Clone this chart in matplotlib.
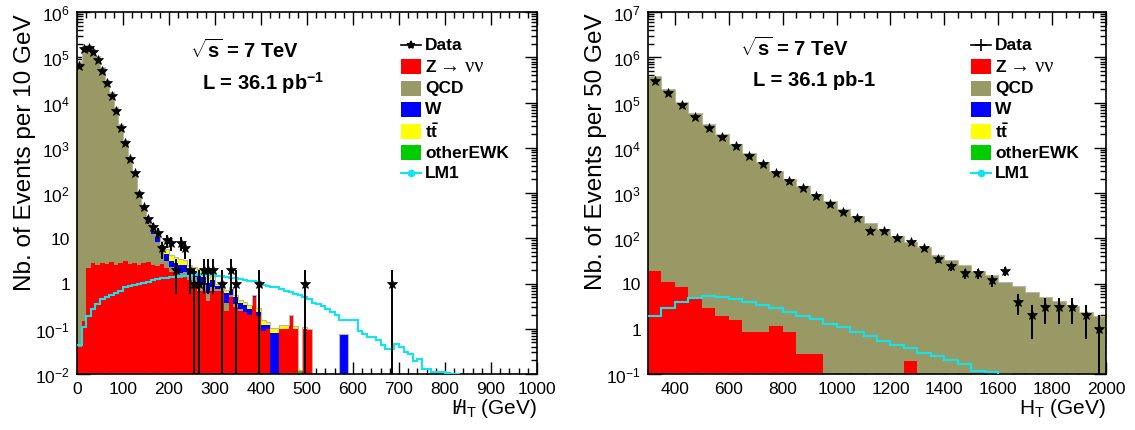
import numpy as np
import matplotlib
matplotlib.use("Agg")
import matplotlib.pyplot as plt
from matplotlib.patches import Rectangle
from matplotlib.lines import Line2D
from matplotlib.ticker import (FixedLocator, FixedFormatter, MultipleLocator,
                               LogLocator, NullFormatter)

plt.rcParams["font.family"] = ["Liberation Sans", "DejaVu Sans"]
plt.rcParams["mathtext.fontset"] = "custom"
plt.rcParams["mathtext.rm"] = "Liberation Sans"
plt.rcParams["mathtext.it"] = "Liberation Sans:italic"
plt.rcParams["mathtext.bf"] = "Liberation Sans:bold"
plt.rcParams["mathtext.sf"] = "Liberation Sans"

# ---------------- missing H_T : 10 GeV bins, 0 - 1000 GeV ----------------
mht_edges = np.arange(0, 1001, 10)

mht_data = [65000, 150000, 160000, 130000, 87000, 50000, 27000, 14000, 6400, 2700,
            1260, 550, 277, 96, 48, 26, 18, 13, 6, 9,
            8, 2, 8, 6, 2, 1, 1, 2, 2, 2,
            0, 1, 0, 2, 1, 0, 0, 0, 0, 1,
            0, 0, 0, 0, 0, 0, 0, 0, 0, 1] + [0] * 18 + [1] + [0] * 31

mht_z = [0.04, 0.15, 2.2, 2.8, 2.6, 2.9, 2.7, 3.0, 2.6, 2.8,
         3.1, 2.7, 2.9, 2.5, 2.8, 3.0, 2.6, 2.4, 2.7, 2.2,
         1.8, 1.6, 1.3, 1.5, 1.2, 1.1, 0.7, 0.7, 0.42, 0.7,
         0.7, 0.7, 0.25, 0.5, 0.3, 0.25, 0.23, 0.2, 0.5, 0.19,
         0.09, 0.1, 0, 0, 0.1, 0.1, 0.19, 0.1, 0, 0.1,
         0.1] + [0] * 49

mht_qcd = [8.0e4, 1.9e5, 1.9e5, 1.55e5, 1.05e5, 6.0e4, 3.2e4, 1.7e4, 8.0e3, 3.4e3,
           1.45e3, 620, 280, 105, 42, 20, 10, 6, 3.0, 1.0,
           0.5, 0.5, 0.4, 0.3, 0.3, 0.3, 0.4, 0.25, 0.2, 0.15,
           0.05, 0.1, 0.12, 0.05, 0.05, 0.03] + [0] * 64

mht_w = [0.5, 1, 2, 3, 3.5, 4, 4.5, 5, 5, 5,
         5, 4, 3.2, 2.6, 2.2, 2.0, 1.8, 2.0, 1.5, 1.2,
         0.9, 0.8, 0.9, 0.8, 0.5, 0.5, 0.5, 0.45, 0.4, 0.35,
         0.12, 0.2, 0.25, 0.2, 0.15, 0.1, 0.1, 0.08, 0.02, 0.05,
         0.03, 0.02, 0.08, 0.08, 0, 0, 0, 0, 0, 0,
         0, 0, 0, 0, 0, 0, 0, 0.075, 0.075] + [0] * 41

mht_tt = [0.05, 0.1, 0.2, 0.4, 0.6, 0.9, 1.2, 1.6, 2.0, 2.4,
          2.8, 3.0, 2.6, 2.2, 2.0, 2.0, 2.0, 2.0, 1.6, 1.3,
          1.0, 0.8, 0.8, 0.7, 0.5, 0.4, 0.4, 0.3, 0.3, 0.25,
          0.1, 0.1, 0.08, 0.07, 0.06, 0.05, 0.05, 0.04, 0.03, 0.04,
          0.03, 0.02, 0.02, 0.02, 0.015, 0.015, 0.01, 0.01, 0, 0.005] + [0] * 50

mht_ewk = [0.01, 0.02, 0.05, 0.08, 0.1, 0.12, 0.15, 0.2, 0.2, 0.2,
           0.2, 0.2, 0.2, 0.2, 0.18, 0.15, 0.15, 0.12, 0.1, 0.1,
           0.08, 0.07, 0.06, 0.05, 0.05, 0.04, 0.04, 0.03, 0.03, 0.02,
           0.02, 0.015, 0.015, 0.01, 0.01, 0.01, 0.008, 0.008, 0.005, 0.005,
           0.005, 0.004, 0.005, 0.005, 0.003, 0.003, 0.006, 0.003, 0.012, 0.002] + [0] * 50

mht_lm1 = [0.043, 0.11, 0.19, 0.27, 0.36, 0.45, 0.5, 0.56, 0.62, 0.7,
           0.85, 0.9, 0.95, 1.0, 1.05, 1.1, 1.2, 1.25, 1.3, 1.35,
           1.4, 1.42, 1.45, 1.48, 1.5, 1.55, 1.6, 1.55, 1.6, 1.55,
           1.5, 1.45, 1.4, 1.35, 1.3, 1.25, 1.2, 1.15, 1.15, 1.1,
           0.95, 0.9, 0.85, 0.83, 0.75, 0.7, 0.65, 0.6, 0.55, 0.5,
           0.45, 0.37, 0.35, 0.32, 0.27, 0.23, 0.2, 0.16, 0.16, 0.16,
           0.16, 0.09, 0.075, 0.065, 0.065, 0.055, 0.043, 0.035, 0.035, 0.046,
           0.04, 0.03, 0.027, 0.019, 0.021, 0.013, 0.013, 0.0112, 0.0112, 0.0108,
           0.0103, 0.0102, 0.0101] + [0.005] * 17

# ---------------- H_T : 50 GeV bins, 300 - 2000 GeV ----------------
ht_edges = np.arange(300, 2001, 50)

ht_data = [3.0e5, 1.6e5, 8.8e4, 4.9e4, 2.8e4, 1.75e4, 1.07e4, 6600, 4400, 2800,
           1800, 1260, 870, 571, 374, 275, 147, 147, 101, 81,
           60, 35, 24, 17, 17, 12, 19, 4, 2, 3,
           3, 3, 2, 1]

ht_z = [19, 11, 8.3, 4.7, 2.9, 1.9, 1.6, 0.83, 0.83, 1.13,
        0.83, 0.28, 0.28, 0, 0, 0, 0, 0, 0, 0.19,
        0, 0, 0, 0, 0, 0, 0, 0, 0, 0,
        0, 0, 0, 0]

ht_qcd = [3.9e5, 2.0e5, 1.05e5, 5.8e4, 3.3e4, 2.0e4, 1.2e4, 7600, 4900, 3100,
          2000, 1400, 950, 680, 445, 316, 222, 158, 112, 82,
          63, 43, 33, 26, 19, 15, 11, 8.7, 6.4, 5.0,
          4.0, 3.1, 2.4, 1.95]

ht_w = [25, 15, 9, 6, 4, 2.5, 1.8, 1.2, 0.9, 0.6,
        0.45, 0.35, 0.25, 0.2, 0.15, 0.1, 0.08, 0.06, 0.05, 0.04,
        0.03, 0.02, 0.02, 0.015, 0.01, 0.01, 0.008, 0.006, 0.005, 0.004,
        0.003, 0.002, 0.002, 0.001]

ht_tt = [12, 9, 7, 5, 3.5, 2.5, 1.8, 1.3, 0.9, 0.6,
         0.45, 0.3, 0.22, 0.16, 0.12, 0.09, 0.07, 0.05, 0.04, 0.03,
         0.025, 0.02, 0.015, 0.012, 0.01, 0.015, 0.006, 0.005, 0.004, 0.003,
         0.002, 0.002, 0.001, 0.001]

ht_ewk = [2, 1.5, 1.1, 0.8, 0.6, 0.4, 0.3, 0.2, 0.15, 0.1,
          0.08, 0.06, 0.05, 0.04, 0.03, 0.02, 0.015, 0.012, 0.01, 0.008,
          0.006, 0.005, 0.004, 0.003, 0.002, 0.02, 0.002, 0.001, 0.001, 0.001,
          0.001, 0.001, 0.001, 0.001]

ht_lm1 = [1.9, 2.9, 4.0, 4.7, 5.2, 5.1, 4.6, 4.0, 3.35, 2.9,
          2.3, 1.95, 1.64, 1.27, 1.07, 0.83, 0.68, 0.54, 0.43, 0.37,
          0.29, 0.245, 0.2, 0.17, 0.118, 0.109, 0.095, 0.085, 0.07, 0.06,
          0.05, 0.04, 0.03, 0.025]

COL_Z, COL_QCD, COL_W, COL_TT, COL_EWK = "#ff0000", "#999966", "#0000ff", "#ffff00", "#00cc00"
COL_LM1 = "#10e4ee"

W_PX, H_PX = 1135, 431
fig = plt.figure(figsize=(W_PX / 100, H_PX / 100), dpi=100)


def fx(x):
    return x / W_PX


def fy(y):
    return 1 - y / H_PX


def axes_px(x0, x1, ytop, ybot):
    return fig.add_axes([fx(x0), fy(ybot), (x1 - x0) / W_PX, (ybot - ytop) / H_PX])


def draw_stack(ax, edges, layers, colors, floor):
    cum = np.zeros(len(edges) - 1)
    tops = []
    for vals in layers:
        cum = cum + np.asarray(vals, float)
        tops.append(cum.copy())
    for top, col in reversed(list(zip(tops, colors))):
        ax.stairs(np.where(top > 0, top, floor), edges, baseline=floor,
                  fill=True, color=col, lw=0, zorder=2)
    ax.stairs(np.where(tops[-1] > 0, tops[-1], floor), edges, baseline=None,
              color="#b8b8a8", lw=0.8, zorder=2.1)


def draw_data(ax, edges, counts, floor):
    counts = np.asarray(counts, float)
    centers = 0.5 * (edges[:-1] + edges[1:])
    sel = counts > 0
    c, x = counts[sel], centers[sel]
    err = np.sqrt(c)
    lo = np.minimum(err, c - floor)
    ax.errorbar(x, c, yerr=[lo, err], fmt="*", color="k", ms=7, mew=0.5,
                elinewidth=1.4, capsize=0, zorder=5)


def style_axes(ax, xlim, ylim_exp, xminor, xticks_shown):
    ax.set_yscale("log")
    ax.set_xlim(*xlim)
    ax.set_ylim(10.0 ** ylim_exp[0], 10.0 ** ylim_exp[1])
    ax.xaxis.set_major_locator(FixedLocator(xticks_shown))
    ax.xaxis.set_minor_locator(MultipleLocator(xminor))
    ax.xaxis.set_major_formatter(FixedFormatter([str(t) for t in xticks_shown]))
    exps = list(range(ylim_exp[0], ylim_exp[1] + 1))
    labels = []
    for e in exps:
        if e == 0:
            labels.append("1")
        elif e == 1:
            labels.append("10")
        else:
            labels.append(r"$10^{%d}$" % e)
    ax.yaxis.set_major_locator(FixedLocator([10.0 ** e for e in exps]))
    ax.yaxis.set_major_formatter(FixedFormatter(labels))
    ax.yaxis.set_minor_locator(LogLocator(base=10, subs=np.arange(2, 10), numticks=30))
    ax.yaxis.set_minor_formatter(NullFormatter())
    ax.tick_params(which="both", direction="in", top=True, right=True,
                   labelsize=12.5, width=1.0, color="k")
    ax.tick_params(which="major", length=9, pad=5)
    ax.tick_params(which="minor", length=4.5)
    for sp in ax.spines.values():
        sp.set_linewidth(1.2)


def draw_legend(x_box, x_text, data_marker):
    rows = [46, 67, 89, 110, 132, 153, 174]
    bw, bh = 20, 15
    fs = 12.5
    # Data
    y = rows[0]
    fig.add_artist(Line2D([fx(x_box), fx(x_box + bw)], [fy(y), fy(y)],
                          transform=fig.transFigure, color="k", lw=1.2))
    fig.add_artist(Line2D([fx(x_box + bw / 2)], [fy(y)], transform=fig.transFigure,
                          marker=data_marker, color="k", ms=6 if data_marker == "*" else 8,
                          mew=1.2, lw=0))
    fig.text(fx(x_text), fy(y), "Data", fontsize=fs, fontweight="bold", va="center")
    boxes = [(COL_Z, None), (COL_QCD, "QCD"), (COL_W, "W"),
             (COL_TT, r"$\mathbf{t\bar{t}}$"), (COL_EWK, "otherEWK")]
    for (col, lab), y in zip(boxes, rows[1:6]):
        fig.add_artist(Rectangle((fx(x_box), fy(y + bh / 2)), bw / W_PX, bh / H_PX,
                                 transform=fig.transFigure, facecolor=col, edgecolor="none"))
        if lab is not None:
            fig.text(fx(x_text), fy(y), lab, fontsize=fs, fontweight="bold", va="center")
    y = rows[1]
    fig.text(fx(x_text), fy(y), "Z", fontsize=fs, fontweight="bold", va="center")
    fig.text(fx(x_text + 15), fy(y + 1), "\u2192 \u03bd\u03bd", fontsize=14.5,
             family=["Liberation Serif", "DejaVu Serif"], va="center")
    # LM1
    y = rows[6]
    fig.add_artist(Line2D([fx(x_box), fx(x_box + bw)], [fy(y), fy(y)],
                          transform=fig.transFigure, color=COL_LM1, lw=1.5))
    fig.add_artist(Line2D([fx(x_box + bw / 2)], [fy(y)], transform=fig.transFigure,
                          marker="o", color=COL_LM1, ms=4.5, lw=0))
    fig.text(fx(x_text), fy(y), "LM1", fontsize=fs, fontweight="bold", va="center")


# ---------------- left panel : missing H_T ----------------
axL = axes_px(77, 537, 13, 375)
floorL = 1e-4
draw_stack(axL, mht_edges, [mht_z, mht_qcd, mht_w, mht_tt, mht_ewk],
           [COL_Z, COL_QCD, COL_W, COL_TT, COL_EWK], floorL)
axL.stairs(mht_lm1, mht_edges, baseline=None, color=COL_LM1, lw=1.5, zorder=3)
draw_data(axL, mht_edges, mht_data, floorL)
style_axes(axL, (0, 1000), (-2, 6), 20, list(range(0, 1001, 100)))

# ---------------- right panel : H_T ----------------
axR = axes_px(648, 1106, 13, 375)
floorR = 1e-3
draw_stack(axR, ht_edges, [ht_z, ht_qcd, ht_w, ht_tt, ht_ewk],
           [COL_Z, COL_QCD, COL_W, COL_TT, COL_EWK], floorR)
axR.stairs(ht_lm1, ht_edges, baseline=None, color=COL_LM1, lw=1.5, zorder=3)
draw_data(axR, ht_edges, ht_data, floorR)
style_axes(axR, (300, 2000), (-1, 7), 50, list(range(400, 2001, 200)))

# ---------------- axis titles ----------------
fig.text(fx(25), fy(153), "Nb. of Events per 10 GeV", rotation=90,
         fontsize=17.5, ha="center", va="center")
fig.text(fx(596), fy(152), "Nb. of Events per 50 GeV", rotation=90,
         fontsize=17.5, ha="center", va="center")

# missing H_T: a slash is stepped back over the H with negative spaces
fig.text(fx(537), fy(409),
         r"$\mathregular{H_{T}}\!\!\!\!\!\!\!/\ \;\,$ (GeV)",
         fontsize=15, ha="right", va="center")
fig.text(fx(1106), fy(409), r"$\mathregular{H_{T}}$ (GeV)", fontsize=15,
         ha="right", va="center")

# ---------------- energy / luminosity captions ----------------
fig.text(fx(190), fy(50), r"$\sqrt{\mathbf{s}}$ = 7 TeV", fontsize=14.5,
         fontweight="bold", va="center")
fig.text(fx(202), fy(83), r"L = 36.1 pb$^{\mathbf{-1}}$", fontsize=14.5,
         fontweight="bold", va="center")
fig.text(fx(740), fy(48), r"$\sqrt{\mathbf{s}}$ = 7 TeV", fontsize=14.5,
         fontweight="bold", va="center")
fig.text(fx(753), fy(80), "L = 36.1 pb-1", fontsize=14.5,
         fontweight="bold", va="center")

draw_legend(401, 425, "*")
draw_legend(971, 995, "+")

fig.savefig("out.png", dpi=100)
